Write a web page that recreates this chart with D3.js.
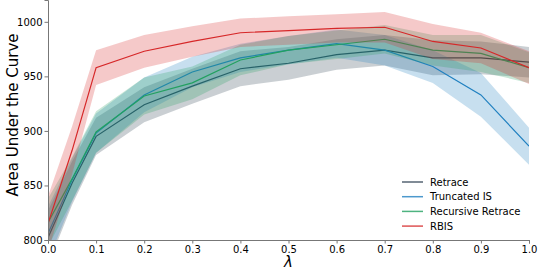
<!DOCTYPE html>
<html>
<head>
<meta charset="utf-8">
<script src="https://cdn.jsdelivr.net/npm/d3@7"></script>
<style>
  body { margin: 0; background: #fff; }
  text { font-family: "DejaVu Sans", sans-serif; }
</style>
</head>
<body>
<div id="chart"></div>
<script>
// lambda values on the x axis
const lambdas = [0, 0.05, 0.1, 0.2, 0.3, 0.4, 0.5, 0.6, 0.7, 0.8, 0.9, 1.0];

const seriesNames = ["Retrace", "Truncated IS", "Recursive Retrace", "RBIS"];
const seriesColors = ["#2c3e50", "#2080c0", "#22a060", "#d62728"];

// mean AUC per lambda
const retraceMean   = [802, 852, 895, 924, 941, 957, 962, 970, 974, 967, 967, 963];
const truncatedMean = [806, 855, 898, 933, 954, 967, 974, 980, 974, 959, 933, 886];
const recursiveMean = [816, 856, 899, 932, 944, 965, 974, 979, 984, 974, 971, 958];
const rbisMean      = [815, 882, 958, 973, 982, 990, 992, 994, 995, 982, 976, 958];

// band half widths
const retraceSd   = [25, 20, 17, 16, 16, 16, 15, 14, 14, 16, 15, 14];
const truncatedSd = [25, 20, 18, 16, 14, 13, 13, 13, 14, 15, 20, 17];
const recursiveSd = [22, 20, 19, 17, 15, 14, 13, 13, 13, 14, 17, 14];
const rbisSd      = [25, 22, 16, 15, 14, 13, 13, 13, 14, 16, 14, 15];

const xTicks = [0, 0.1, 0.2, 0.3, 0.4, 0.5, 0.6, 0.7, 0.8, 0.9, 1.0];
const yTicks = [800, 850, 900, 950, 1000];

const means = [retraceMean, truncatedMean, recursiveMean, rbisMean];
const sds = [retraceSd, truncatedSd, recursiveSd, rbisSd];

const W = 540, H = 270;
const margin = {top: 0, right: 11, bottom: 30, left: 48};
const width = W - margin.left - margin.right;
const height = H - margin.top - margin.bottom;

const svg = d3.select("#chart").append("svg")
  .attr("width", W).attr("height", H);

const g = svg.append("g")
  .attr("transform", `translate(${margin.left},${margin.top})`);

const x = d3.scaleLinear().domain([0, 1]).range([0, width]);
const y = d3.scaleLinear().domain([800, 1020]).range([height, 0]);

g.append("clipPath").attr("id", "clip")
  .append("rect").attr("width", width).attr("height", height);

const plot = g.append("g").attr("clip-path", "url(#clip)");

const area = d3.area()
  .x(d => x(d.x))
  .y0(d => y(d.m - d.s))
  .y1(d => y(d.m + d.s));
const line = d3.line().x(d => x(d.x)).y(d => y(d.m));

seriesNames.forEach((name, i) => {
  const pts = lambdas.map((l, j) => ({x: l, m: means[i][j], s: sds[i][j]}));
  plot.append("path")
    .attr("d", area(pts))
    .attr("fill", seriesColors[i])
    .attr("fill-opacity", 0.25)
    .attr("stroke", "none");
  plot.append("path")
    .attr("d", line(pts))
    .attr("fill", "none")
    .attr("stroke", seriesColors[i])
    .attr("stroke-width", 1.2);
});

// axes
const xAxis = g.append("g")
  .attr("transform", `translate(0,${height})`)
  .call(d3.axisBottom(x).tickValues(xTicks).tickFormat(d3.format(".1f")).tickSize(3.5).tickPadding(2));
const yAxis = g.append("g")
  .call(d3.axisLeft(y).tickValues(yTicks).tickFormat(d3.format("d")).tickSize(3.5).tickPadding(2));

[xAxis, yAxis].forEach(a => {
  a.selectAll("path.domain").attr("stroke", "#777").attr("stroke-width", 1);
  a.selectAll(".tick line").attr("stroke", "#777");
  a.selectAll(".tick text").attr("fill", "#000")
    .style("font-family", "DejaVu Sans").style("font-size", "10px");
});

svg.append("text")
  .attr("transform", `translate(13,${height / 2 - 5}) rotate(-90)`)
  .attr("text-anchor", "middle")
  .attr("dominant-baseline", "middle")
  .style("font-size", "15px")
  .text("Area Under the Curve");

svg.append("text")
  .attr("x", margin.left + width / 2)
  .attr("y", 267)
  .attr("text-anchor", "middle")
  .style("font-size", "15px")
  .style("font-style", "italic")
  .text("λ");

// legend
const legend = svg.append("g").attr("transform", "translate(402,182)");
seriesNames.forEach((name, i) => {
  const row = legend.append("g").attr("transform", `translate(0,${i * 14.7})`);
  row.append("line")
    .attr("x1", 0).attr("x2", 21)
    .attr("stroke", seriesColors[i]).attr("stroke-opacity", 0.8).attr("stroke-width", 1.5);
  row.append("text")
    .attr("x", 28).attr("dy", "0.35em")
    .style("font-size", "10px")
    .text(name);
});
</script>
</body>
</html>
